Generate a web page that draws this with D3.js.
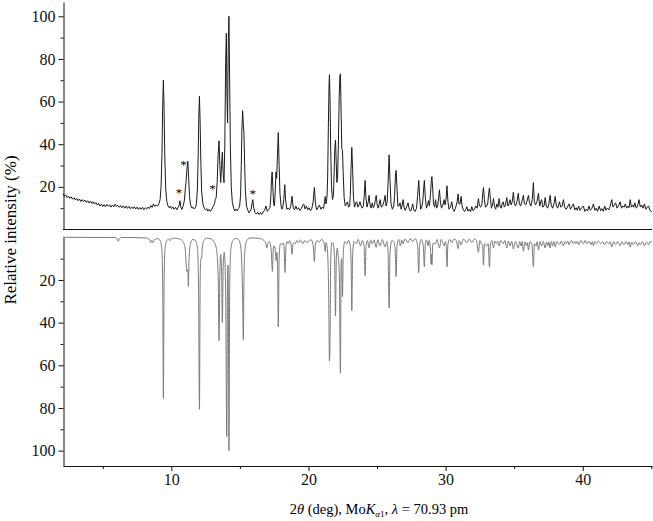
<!DOCTYPE html>
<html>
<head>
<meta charset="utf-8">
<script src="https://cdn.jsdelivr.net/npm/d3@7"></script>
<style>
  body { margin: 0; background: #fff; }
  .domain, .tick line { stroke: #111; }
</style>
</head>
<body>
<div id="chart"></div>
<script>
// measured pattern, 2theta (deg) vs relative intensity (%)
const expPoints = [
  [2.1,16.8],[2.2,15.6],[2.3,16.2],[2.4,15.0],[2.5,15.7],[2.6,14.6],[2.7,15.3],[2.8,14.2],[2.9,14.9],[3.0,13.8],
  [3.1,14.6],[3.2,13.5],[3.3,14.3],[3.4,13.2],[3.5,14.0],[3.6,13.1],[3.7,13.8],[3.8,12.7],[3.9,13.5],[4.0,12.4],
  [4.1,13.3],[4.2,12.2],[4.3,13.0],[4.4,11.9],[4.5,12.6],[4.6,11.5],[4.7,12.3],[4.8,11.0],[4.9,11.9],[5.0,10.8],
  [5.1,11.7],[5.2,10.6],[5.3,11.8],[5.4,10.9],[5.5,11.6],[5.6,10.5],[5.7,11.5],[5.8,10.6],[5.9,11.9],[6.0,10.8],
  [6.1,11.4],[6.2,10.4],[6.3,11.3],[6.4,10.2],[6.5,11.1],[6.6,10.0],[6.7,11.0],[6.8,9.9],[6.9,10.8],[7.0,9.7],
  [7.1,10.6],[7.2,9.8],[7.3,10.7],[7.4,9.6],[7.5,10.5],[7.6,9.4],[7.7,10.3],[7.8,9.5],[7.9,10.4],[8.0,9.3],
  [8.1,10.2],[8.2,9.6],[8.3,10.5],[8.4,9.8],[8.5,11.2],[8.6,10.4],[8.7,12.0],[8.8,10.8],[8.9,11.5],[9.0,11.0],
  [9.1,12.2],[9.18,14],[9.25,20],[9.32,36],[9.37,58],[9.42,70],[9.47,57],[9.52,35],[9.59,19],[9.67,13],
  [9.76,11],[9.85,10.2],[9.93,11.0],[10.0,9.8],[10.1,10.6],[10.2,9.5],[10.3,10.4],[10.4,9.3],[10.5,10.5],[10.57,11.4],
  [10.63,13.5],[10.69,10.5],[10.77,9.4],[10.85,10.8],[10.95,13.5],[11.02,19],[11.07,22],[11.12,27],[11.2,32],[11.26,25],
  [11.32,16],[11.4,11.5],[11.5,10],[11.6,10.4],[11.68,9.6],[11.75,10.2],[11.83,12],[11.9,19],[11.96,35],[12.0,52],
  [12.05,62.5],[12.1,50],[12.15,32],[12.21,18],[12.3,12],[12.4,10],[12.5,9.2],[12.58,9.8],[12.66,8.6],[12.75,9.4],
  [12.85,8.5],[12.95,9.5],[13.05,10.8],[13.15,12.2],[13.2,14],[13.27,15],[13.34,22],[13.41,35],[13.48,41.6],[13.54,30],
  [13.6,22],[13.66,30],[13.72,36.3],[13.78,26],[13.84,22],[13.9,40],[13.96,78],[14.01,92],[14.06,62],[14.1,50],
  [14.15,85],[14.2,100],[14.25,72],[14.3,40],[14.37,20],[14.45,12.5],[14.55,10],[14.63,8.7],[14.72,9.6],[14.8,8.8],
  [14.9,9.8],[14.98,11],[15.05,16],[15.1,30],[15.15,48],[15.2,55.7],[15.25,49],[15.29,46],[15.34,32],[15.4,18],
  [15.48,11],[15.58,9],[15.66,7.8],[15.74,8.6],[15.82,9.5],[15.89,12.5],[15.94,14],[16.0,10.5],[16.1,8],[16.2,7.2],
  [16.3,8.1],[16.4,7.0],[16.5,8.0],[16.6,7.1],[16.7,8.2],[16.8,9.0],[16.9,11],[17.0,8.5],[17.1,9.4],[17.2,10.5],
  [17.26,16],[17.3,23],[17.35,27],[17.4,20],[17.46,12],[17.52,11],[17.57,17],[17.63,27],[17.68,24],[17.74,35],
  [17.8,45.5],[17.86,30],[17.92,17],[18.0,11],[18.07,9.5],[18.13,10.5],[18.2,14],[18.27,21],[18.33,14],[18.42,9.5],
  [18.52,10],[18.62,9.3],[18.71,11],[18.8,15.6],[18.88,10.5],[18.98,9.2],[19.08,11],[19.18,9.4],[19.28,10.2],[19.38,8.9],
  [19.48,9.8],[19.58,11.5],[19.66,12],[19.75,9.6],[19.85,11],[19.95,9.2],[20.05,10.2],[20.15,8.8],[20.25,10],[20.34,13],
  [20.43,19.7],[20.51,12],[20.6,9.2],[20.7,10.3],[20.8,11.5],[20.9,9.5],[21.0,10.5],[21.1,9.8],[21.17,13],[21.22,15.5],
  [21.28,12],[21.35,15],[21.4,25],[21.45,48],[21.5,68],[21.53,72.6],[21.57,62],[21.62,38],[21.68,20],[21.75,14],
  [21.82,16],[21.87,26],[21.92,38],[21.97,42],[22.02,32],[22.07,22],[22.12,24],[22.18,40],[22.24,62],[22.29,72],
  [22.33,73],[22.38,55],[22.43,38],[22.48,37],[22.53,27],[22.6,15],[22.68,11],[22.76,12],[22.84,13],[22.92,10.5],
  [23.0,11],[23.05,16],[23.1,28],[23.16,38.5],[23.22,28],[23.28,15],[23.36,10.5],[23.45,12.5],[23.52,13],[23.6,10.5],
  [23.68,11.5],[23.76,13],[23.84,11],[23.92,10],[24.0,11],[24.07,16],[24.13,23],[24.19,15],[24.27,10.5],[24.36,13],
  [24.42,16],[24.48,12],[24.56,10],[24.65,12.5],[24.73,10.2],[24.82,11.5],[24.88,14],[24.94,16],[25.0,12],[25.08,10],
  [25.16,12],[25.23,14],[25.3,10.5],[25.4,11],[25.5,13],[25.59,16],[25.66,11],[25.74,13],[25.8,21],[25.88,35],
  [25.95,22],[26.02,12],[26.12,9.5],[26.22,11],[26.28,16],[26.34,25],[26.39,27.7],[26.45,20],[26.52,11],[26.6,11],
  [26.68,12.5],[26.76,9.5],[26.84,11.5],[26.9,14],[26.97,10.5],[27.05,9],[27.15,10.5],[27.26,12.5],[27.35,9.5],[27.45,8.6],
  [27.55,10.5],[27.6,12],[27.68,9],[27.78,8.5],[27.88,10],[27.96,16],[28.04,23],[28.11,15],[28.18,9.5],[28.26,10.5],
  [28.33,13],[28.4,19],[28.45,23],[28.52,15],[28.6,10],[28.68,11.5],[28.75,13.5],[28.82,11],[28.9,17],[28.96,23],
  [29.0,24.8],[29.06,19],[29.12,12],[29.2,10.5],[29.27,14],[29.34,10],[29.42,11],[29.49,15],[29.55,18.6],[29.62,13],
  [29.7,10],[29.8,11.5],[29.89,14],[29.95,11.5],[30.03,14],[30.1,20.5],[30.17,13],[30.25,9.5],[30.35,10.5],[30.45,13],
  [30.53,9.5],[30.62,8.5],[30.72,10],[30.84,13],[30.91,16.7],[30.97,12],[31.05,12],[31.13,15.5],[31.2,11],[31.3,9],
  [31.4,8.5],[31.48,9.5],[31.55,10.7],[31.63,8.6],[31.72,9.5],[31.82,8.3],[31.91,10.7],[32.0,8.8],[32.1,9.5],[32.2,11],
  [32.3,10],[32.39,14.5],[32.47,11],[32.56,10.5],[32.65,12],[32.71,17],[32.76,19.7],[32.83,14],[32.9,10.5],[33.0,11],
  [33.08,12.5],[33.14,17],[33.2,19.5],[33.27,14],[33.34,10],[33.42,11.5],[33.49,14.5],[33.56,11],[33.65,9.5],[33.74,12],
  [33.82,10.5],[33.9,14.5],[33.97,11],[34.05,10],[34.12,12],[34.2,13],[34.28,10.5],[34.36,11.5],[34.46,15],[34.54,11],
  [34.62,12],[34.7,14],[34.78,11.5],[34.86,13],[34.94,17.5],[35.02,12],[35.1,11],[35.2,13],[35.3,17],[35.38,12],
  [35.47,11],[35.56,13],[35.67,16],[35.75,12],[35.84,11.5],[35.92,13],[36.04,16],[36.12,12.5],[36.22,11],[36.32,14],
  [36.4,22],[36.47,13],[36.56,11.5],[36.66,13],[36.77,17],[36.86,11],[36.94,13],[37.0,14],[37.08,10.5],[37.18,11],
  [37.26,15],[37.34,11],[37.44,10],[37.53,12],[37.62,16],[37.7,11.5],[37.8,10],[37.9,12],[37.99,15.5],[38.08,11],
  [38.18,10],[38.3,13],[38.4,10.5],[38.5,11],[38.59,14],[38.68,10.5],[38.78,9.5],[38.88,10.5],[39.0,12],[39.1,9.5],
  [39.2,10.5],[39.32,12],[39.42,9.2],[39.52,10.2],[39.6,9],[39.7,11],[39.8,9],[39.9,10],[40.05,11],[40.15,8.5],
  [40.25,9.5],[40.35,8.7],[40.45,11],[40.55,9],[40.65,9.8],[40.78,12],[40.88,9],[40.98,10],[41.08,8.5],[41.2,11],
  [41.3,8.8],[41.4,9.8],[41.5,8.5],[41.6,11],[41.7,9],[41.8,10],[41.9,9.2],[42.0,11],[42.12,14],[42.2,10.5],
  [42.3,11.5],[42.4,12.5],[42.5,10],[42.6,11],[42.73,13],[42.82,10],[42.92,11],[43.02,10.5],[43.1,12],[43.2,10],
  [43.3,11],[43.38,10.2],[43.46,14],[43.55,10.5],[43.65,11.5],[43.72,10.5],[43.8,12.5],[43.9,10],[44.0,11],[44.1,14],
  [44.2,10.5],[44.3,11.5],[44.4,10],[44.5,12],[44.6,9.5],[44.7,10.5],[44.8,11],[44.9,9],[45.0,8.5],[45.05,8.2]
];

// simulated pattern, drawn downward in the lower panel
const simPoints = [
  [2.1,0],[5.9,0.1],[6.05,0.8],[6.13,2],[6.2,0.8],[6.35,0.1],
  [8.2,0.3],[8.4,1.2],[8.5,2.5],[8.57,1.4],[8.65,2.6],[8.75,1.2],[8.95,0.6],
  [9.15,1.2],[9.3,5],[9.37,22],[9.42,75.5],[9.47,22],[9.54,5],[9.68,1.5],[9.8,0.8],[9.9,1.6],[10.0,0.6],
  [10.3,0.4],[10.6,0.8],[10.85,2],[11.0,5],[11.08,12],[11.14,16],[11.2,15],[11.24,23],[11.3,9],[11.4,3],[11.55,1],
  [11.75,1.5],[11.9,5],[11.98,22],[12.05,80.6],[12.1,22],[12.15,10],[12.2,10],[12.27,4],[12.4,1.2],[12.6,0.4],
  [12.9,0.8],[13.15,2.5],[13.3,6],[13.42,20],[13.48,48.4],[13.54,16],[13.6,8],[13.67,18],[13.72,40],[13.78,14],
  [13.86,7],[13.96,25],[14.04,93.4],[14.1,18],[14.13,13],[14.16,30],[14.2,100],[14.26,20],[14.35,5],[14.5,1.5],[14.7,0.5],
  [14.9,1],[15.05,4],[15.15,15],[15.2,30],[15.25,48],[15.3,18],[15.38,5],[15.55,1],[15.8,0.3],[16.4,0.5],
  [16.75,1.5],[16.9,3],[16.96,5],[17.03,3],[17.15,2],[17.28,6],[17.37,16],[17.44,5],[17.5,4],[17.58,6],
  [17.64,11],[17.7,7],[17.75,15],[17.8,42],[17.86,10],[17.95,3],[18.05,3.5],[18.15,2.5],[18.23,6],[18.29,16.5],
  [18.36,4],[18.45,2],[18.52,3],[18.62,1.5],[18.74,4],[18.8,8],[18.87,3],[18.98,2.5],[19.05,3],[19.15,1.5],
  [19.3,2.5],[19.42,1.2],[19.6,3],[19.72,1.5],[19.9,2.5],[20.05,1.5],[20.2,1.2],[20.35,4],[20.43,11.4],[20.5,3.5],
  [20.62,1.5],[20.8,2.2],[20.95,1],[21.1,2],[21.17,4],[21.22,6.7],[21.28,2.5],[21.38,6],[21.47,25],[21.53,58],
  [21.58,44],[21.62,12],[21.7,2.5],[21.8,3],[21.9,10],[21.97,36.9],[22.03,10],[22.1,5],[22.16,8],[22.25,18],
  [22.33,63.7],[22.38,12],[22.42,10],[22.45,20],[22.48,27.8],[22.54,7],[22.65,2],[22.8,3],[22.92,1.5],[23.05,4],
  [23.11,12],[23.16,34.4],[23.22,8],[23.32,2],[23.5,3],[23.62,1],[23.8,4],[23.92,1.5],[24.05,4],[24.13,18],
  [24.2,4],[24.3,1.5],[24.42,5],[24.52,1.2],[24.65,3],[24.78,1.2],[24.94,4.7],[25.05,1.2],[25.23,4],[25.38,1],
  [25.59,4.5],[25.7,2],[25.8,6],[25.88,33],[25.95,7],[26.08,1.5],[26.25,2.5],[26.33,7],[26.39,18.5],[26.46,4],
  [26.58,1],[26.7,4],[26.8,1.2],[26.9,3],[27.05,0.8],[27.26,2.5],[27.42,0.6],[27.6,2],[27.8,0.6],[27.96,4],
  [28.04,16.6],[28.1,4],[28.22,1],[28.37,4],[28.45,13.8],[28.52,3],[28.62,1.2],[28.72,4],[28.8,1.5],[28.9,6],
  [28.94,12.5],[28.97,8],[29.0,13],[29.07,3],[29.25,3],[29.38,1],[29.55,5],[29.68,1],[29.89,4],[29.98,2],
  [30.05,5],[30.1,13.8],[30.17,3],[30.3,1],[30.45,2.5],[30.6,0.8],[30.78,1.5],[30.91,5.3],[31.0,1.5],[31.13,3.5],
  [31.3,0.8],[31.55,2.5],[31.72,0.8],[31.91,2.5],[32.1,0.8],[32.25,1.5],[32.39,7],[32.5,1.5],[32.6,3],[32.7,4],
  [32.76,13],[32.83,3],[33.0,4],[33.1,3],[33.2,14],[33.27,3],[33.38,1.5],[33.49,5],[33.6,1.8],[33.7,3],
  [33.8,1.8],[33.9,4],[34.02,1.5],[34.2,3],[34.32,1.5],[34.46,5],[34.58,1.8],[34.7,4],[34.82,1.8],[34.94,5.5],
  [35.1,2],[35.3,5],[35.4,2],[35.5,4],[35.58,2],[35.67,6.5],[35.78,2.2],[35.9,4],[35.97,2.5],[36.04,6],
  [36.15,2],[36.3,3.5],[36.4,13.7],[36.48,3],[36.6,4],[36.68,2],[36.77,6],[36.88,2],[37.0,4],[37.12,2],
  [37.26,5],[37.36,2.2],[37.45,4],[37.53,2.2],[37.62,5],[37.72,2],[37.8,4],[37.9,2],[37.99,4.5],[38.12,2],
  [38.3,3.5],[38.45,1.8],[38.59,4],[38.7,2],[38.8,3],[38.9,1.8],[39.0,3.5],[39.15,1.5],[39.32,3],[39.42,1.8],
  [39.5,3],[39.6,1.8],[39.7,3.5],[39.85,1.5],[40.05,3],[40.18,1.5],[40.3,3],[40.45,1.8],[40.6,3.5],[40.7,2],
  [40.78,4],[40.88,2],[41.0,3],[41.15,1.8],[41.3,3],[41.45,2],[41.6,3.5],[41.75,2],[41.9,3],[42.0,2],
  [42.12,4.5],[42.25,2],[42.4,3.5],[42.55,2],[42.73,4],[42.85,2],[43.0,3.5],[43.15,2],[43.3,3.5],[43.38,2.2],
  [43.46,4.5],[43.58,2.2],[43.7,3.5],[43.85,2],[44.0,4],[44.1,2.5],[44.2,3.5],[44.35,2],[44.5,4],[44.65,2.2],
  [44.8,3.5],[44.92,2],[45.05,2.2]
];

// asterisks marking impurity reflections (2theta, intensity)
const starMarks = [[10.55, 18], [10.88, 31], [13.0, 20], [15.94, 17.5]];

const xTicks = [10, 20, 30, 40];
const xMinorTicks = [5, 15, 25, 35, 45];
const yTicks = [20, 40, 60, 80, 100];
const yMinorTicks = [10, 30, 50, 70, 90];

const serif = "Liberation Serif";
const width = 653, height = 521;
const left = 63, right = 652;

const svg = d3.select("#chart").append("svg")
  .attr("width", width)
  .attr("height", height)
  .attr("font-family", serif);

const x = d3.scaleLinear().domain([2.1, 45.05]).range([left, right]);
const yTop = d3.scaleLinear().domain([0, 106.7]).range([229.5, 2]);
const yBot = d3.scaleLinear().domain([0, 107.2]).range([237.3, 466]);

// upper panel: measured
svg.append("path")
  .datum(expPoints)
  .attr("fill", "none")
  .attr("stroke", "#1a1a1a")
  .attr("stroke-width", 1)
  .attr("stroke-linejoin", "round")
  .attr("d", d3.line().x(d => x(d[0])).y(d => yTop(d[1])));

// lower panel: calculated
svg.append("path")
  .datum(simPoints)
  .attr("fill", "none")
  .attr("stroke", "#7a7a7a")
  .attr("stroke-width", 1)
  .attr("d", d3.line().curve(d3.curveMonotoneX).x(d => x(d[0])).y(d => yBot(d[1])));

svg.selectAll(".star")
  .data(starMarks)
  .join("text")
  .attr("class", "star")
  .attr("x", d => x(d[0]))
  .attr("y", d => yTop(d[1]) + 6)
  .attr("text-anchor", "middle")
  .attr("fill", "#000")
  .attr("font-size", 13)
  .text("*");

// restyle tick labels (d3 puts sans-serif 10px on the axis group)
function styleAxis(g) {
  g.attr("font-family", serif).attr("font-size", 16);
  g.selectAll("text").attr("fill", "#111");
}

// y axes (major + minor)
function yAxes(scale) {
  const g = svg.append("g").attr("transform", `translate(${left + 0.5},0)`);
  g.call(d3.axisLeft(scale).tickValues(yTicks).tickSize(5).tickSizeOuter(0));
  g.append("g").call(d3.axisLeft(scale).tickValues(yMinorTicks).tickSize(3).tickFormat(""))
    .select(".domain").remove();
  styleAxis(g);
  return g;
}
yAxes(yTop);
yAxes(yBot);

// baseline of upper panel
svg.append("line")
  .attr("x1", left).attr("x2", right)
  .attr("y1", yTop(0)).attr("y2", yTop(0))
  .attr("stroke", "#111");

// x axis
const xg = svg.append("g").attr("transform", `translate(0,${yBot.range()[1]})`);
xg.call(d3.axisBottom(x).tickValues(xTicks).tickSize(5).tickSizeOuter(0));
xg.append("g").call(d3.axisBottom(x).tickValues(xMinorTicks).tickSize(3).tickFormat(""))
  .select(".domain").remove();
styleAxis(xg);

// axis titles
svg.append("text")
  .attr("transform", `translate(15.5,230) rotate(-90)`)
  .attr("text-anchor", "middle")
  .attr("font-size", 17)
  .text("Relative intensity (%)");

const xl = svg.append("text")
  .attr("x", 379)
  .attr("y", 514)
  .attr("text-anchor", "middle")
  .attr("font-size", 14.5);
xl.append("tspan").text("2");
xl.append("tspan").attr("font-style", "italic").text("θ");
xl.append("tspan").text(" (deg),  Mo");
xl.append("tspan").attr("font-style", "italic").text("K");
xl.append("tspan").attr("font-style", "italic").attr("font-size", 9).attr("dy", 3).text("α");
xl.append("tspan").attr("font-size", 9).text("1");
xl.append("tspan").attr("dy", -3).text(",  ");
xl.append("tspan").attr("font-style", "italic").text("λ");
xl.append("tspan").text(" = 70.93 pm");
</script>
</body>
</html>
